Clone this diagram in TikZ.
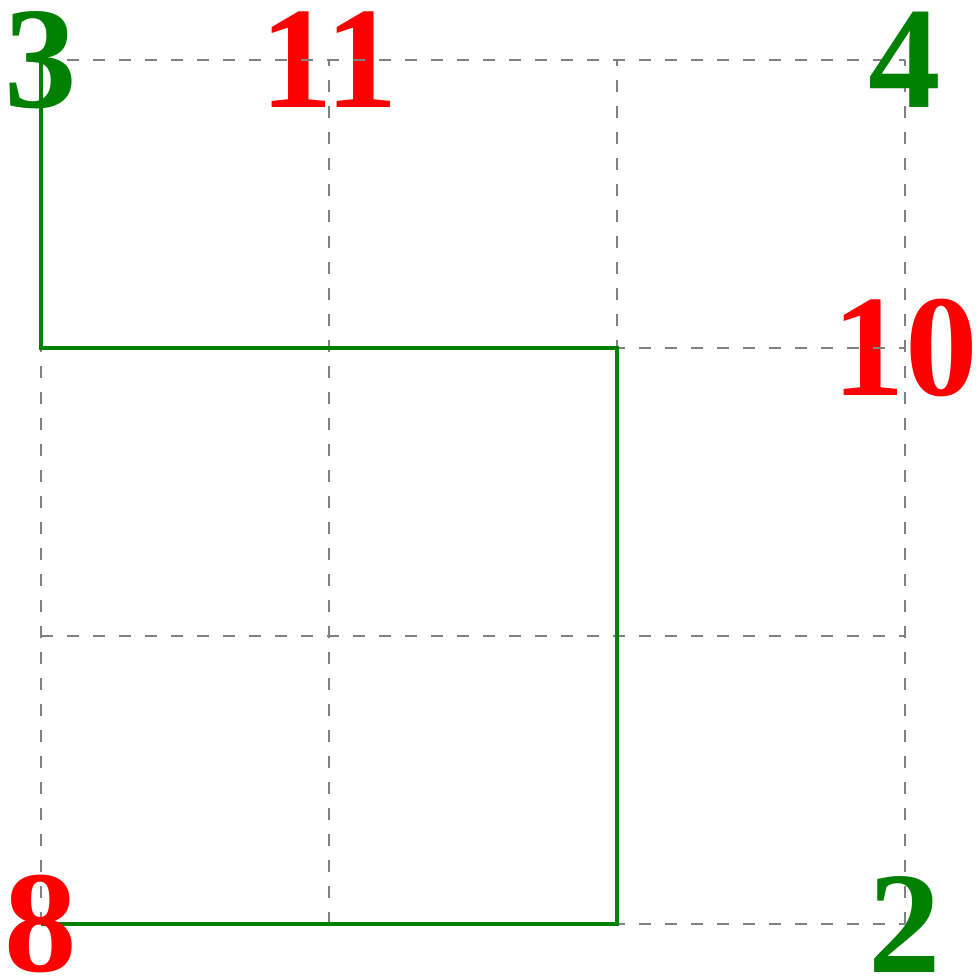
\documentclass[tikz,border=0pt]{standalone}
\usepackage{fontspec}
\setmainfont{Liberation Serif}
\definecolor{pgreen}{rgb}{0,0.5,0}
\begin{document}
\begin{tikzpicture}[x=288pt,y=288pt,
  lbl/.style={inner sep=0pt,font=\fontsize{145}{145}\selectfont\bfseries},
  gridline/.style={draw=gray,line width=2.4pt,dash pattern=on 12pt off 14pt},
  route/.style={draw=pgreen,line width=4.8pt}]
\useasboundingbox (-41/288,-52/288) rectangle (935/288,924/288);
\coordinate (p3) at (0,3);
\coordinate (pa) at (0,2);
\coordinate (pb) at (2,2);
\coordinate (pc) at (2,0);
\coordinate (p8) at (0,0);
% red labels under the grid
\node[lbl,text=red] (n11) at (1,3) {11};
\node[lbl,text=red] (n10) at (3,2) {10};
% grid
\draw[gridline] (0,0) grid[step=1] (3,3);
% green label 3 under route
\node[lbl,text=pgreen] (n3) at (p3) {3};
\draw[route] (p3) -- (pa) -- (pb) -- (pc) -- (p8);
\node[lbl,text=red] (n8) at (p8) {8};
\node[lbl,text=pgreen] (n4) at (3,3) {4};
\node[lbl,text=pgreen] (n2) at (3,0) {2};
\end{tikzpicture}
\end{document}
